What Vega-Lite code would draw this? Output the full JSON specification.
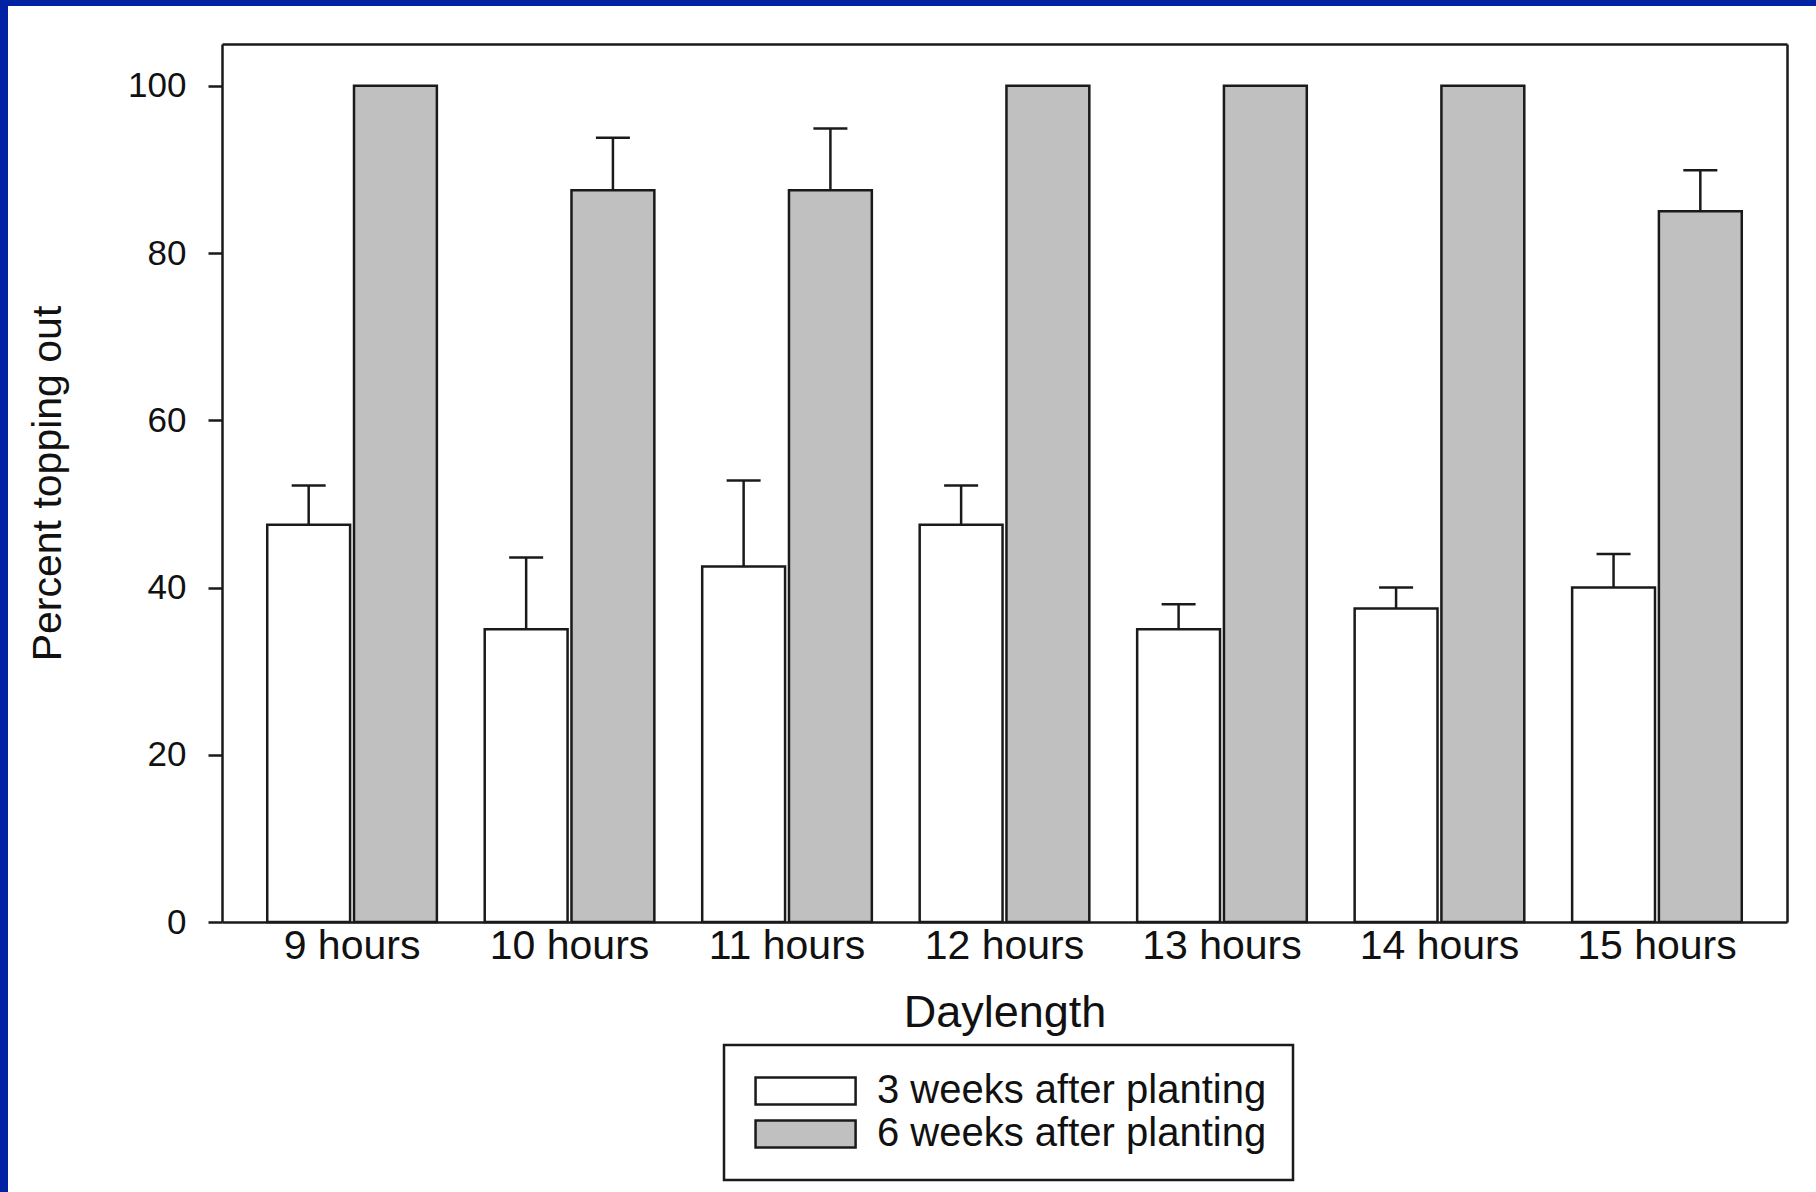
{
  "$schema": "https://vega.github.io/schema/vega-lite/v6.json",
  "width": 1808,
  "height": 1186,
  "autosize": {"type": "none"},
  "padding": {"left": 8, "top": 6, "right": 0, "bottom": 0},
  "background": "#0222a4",
  "data": {
    "values": [
      {"daylength": "9 hours", "stage": "3 weeks after planting", "pct": 47.5, "upper": 52.2},
      {"daylength": "9 hours", "stage": "6 weeks after planting", "pct": 100, "upper": null},
      {"daylength": "10 hours", "stage": "3 weeks after planting", "pct": 35, "upper": 43.6},
      {"daylength": "10 hours", "stage": "6 weeks after planting", "pct": 87.5, "upper": 93.8},
      {"daylength": "11 hours", "stage": "3 weeks after planting", "pct": 42.5, "upper": 52.8},
      {"daylength": "11 hours", "stage": "6 weeks after planting", "pct": 87.5, "upper": 94.9},
      {"daylength": "12 hours", "stage": "3 weeks after planting", "pct": 47.5, "upper": 52.2},
      {"daylength": "12 hours", "stage": "6 weeks after planting", "pct": 100, "upper": null},
      {"daylength": "13 hours", "stage": "3 weeks after planting", "pct": 35, "upper": 38},
      {"daylength": "13 hours", "stage": "6 weeks after planting", "pct": 100, "upper": null},
      {"daylength": "14 hours", "stage": "3 weeks after planting", "pct": 37.5, "upper": 40},
      {"daylength": "14 hours", "stage": "6 weeks after planting", "pct": 100, "upper": null},
      {"daylength": "15 hours", "stage": "3 weeks after planting", "pct": 40, "upper": 44},
      {"daylength": "15 hours", "stage": "6 weeks after planting", "pct": 85, "upper": 89.9}
    ]
  },
  "layer": [
    {
      "mark": {"type": "bar", "stroke": "#1a1a1a", "strokeWidth": 2.5, "opacity": 1},
      "encoding": {
        "x": {
          "field": "daylength", "type": "nominal",
          "sort": ["9 hours", "10 hours", "11 hours", "12 hours", "13 hours", "14 hours", "15 hours"],
          "scale": {"range": [214, 1779], "paddingInner": 0.22, "paddingOuter": 0.208},
          "axis": {
            "orient": "bottom", "offset": -270, "labelAngle": 0, "ticks": false, "tickSize": 0,
            "labelPadding": 4, "labelFontSize": 41, "labelColor": "#111111",
            "domainWidth": 2.5, "domainColor": "#1a1a1a",
            "title": "Daylength", "titleFontSize": 45, "titleFontWeight": "normal", "titleColor": "#111111",
            "titleY": 104, "titleBaseline": "alphabetic"
          }
        },
        "xOffset": {
          "field": "stage", "type": "nominal",
          "scale": {"paddingInner": 0.045, "paddingOuter": 0}
        },
        "y": {
          "field": "pct", "type": "quantitative",
          "scale": {"domain": [0, 105], "range": [916, 38], "nice": false},
          "axis": {
            "orient": "left", "offset": -214, "values": [0, 20, 40, 60, 80, 100],
            "grid": false, "tickSize": 14, "tickWidth": 2.5, "tickColor": "#1a1a1a",
            "domainWidth": 2.5, "domainColor": "#1a1a1a",
            "labelFontSize": 35, "labelPadding": 22, "labelColor": "#111111",
            "title": "Percent topping out", "titleFontSize": 41, "titleFontWeight": "normal",
            "titleColor": "#111111", "titleAngle": -90, "titleX": -174, "titleY": 477,
            "titleAlign": "center", "titleBaseline": "middle"
          }
        },
        "fill": {
          "field": "stage", "type": "nominal",
          "scale": {"domain": ["3 weeks after planting", "6 weeks after planting"], "range": ["#ffffff", "#c0c0c0"]},
          "legend": {
            "orient": "none", "legendX": 716, "legendY": 1039, "title": null,
            "symbolType": "M-1.07,-1H6.34V1H-1.07Z", "symbolSize": 729,
            "symbolStrokeColor": "#1a1a1a", "symbolStrokeWidth": 2.5, "symbolOpacity": 1,
            "labelFontSize": 40, "labelOffset": 87, "labelColor": "#111111", "labelLimit": 0,
            "strokeColor": "#1a1a1a", "padding": 26, "rowPadding": 3
          }
        }
      }
    },
    {
      "transform": [{"filter": "datum.upper != null"}],
      "mark": {"type": "rule", "stroke": "#1a1a1a", "strokeWidth": 2.5},
      "encoding": {
        "x": {
          "field": "daylength", "type": "nominal",
          "sort": ["9 hours", "10 hours", "11 hours", "12 hours", "13 hours", "14 hours", "15 hours"],
          "axis": {"orient": "top", "offset": -38, "labels": false, "ticks": false, "title": null, "domainWidth": 2.5, "domainColor": "#1a1a1a"}
        },
        "xOffset": {"field": "stage", "type": "nominal"},
        "y": {
          "field": "pct", "type": "quantitative",
          "axis": {"orient": "right", "offset": -29, "labels": false, "ticks": false, "grid": false, "title": null, "domainWidth": 2.5, "domainColor": "#1a1a1a"}
        },
        "y2": {"field": "upper"}
      }
    },
    {
      "transform": [{"filter": "datum.upper != null"}],
      "mark": {"type": "tick", "orient": "horizontal", "color": "#1a1a1a", "size": 34, "thickness": 2.5, "opacity": 1},
      "encoding": {
        "x": {
          "field": "daylength", "type": "nominal",
          "sort": ["9 hours", "10 hours", "11 hours", "12 hours", "13 hours", "14 hours", "15 hours"],
          "axis": null
        },
        "xOffset": {"field": "stage", "type": "nominal"},
        "y": {"field": "upper", "type": "quantitative", "axis": null}
      }
    }
  ],
  "resolve": {"axis": {"x": "independent", "y": "independent"}},
  "config": {
    "font": "Liberation Sans",
    "view": {"fill": "#ffffff", "stroke": null},
    "legend": {"strokeWidth": 2.5}
  }
}
